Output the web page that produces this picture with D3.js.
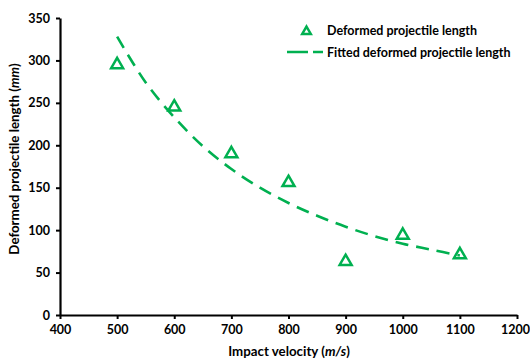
<!DOCTYPE html>
<html>
<head>
<meta charset="utf-8">
<script src="https://cdn.jsdelivr.net/npm/d3@7"></script>
<style>
  body { margin: 0; background: #fff; }
  text { font-family: Lato, "Open Sans", sans-serif; font-weight: bold; fill: #000; }
</style>
</head>
<body>
<svg id="chart" width="530" height="363"></svg>
<script>
// measured points
const velocity = [500, 600, 700, 800, 900, 1000, 1100]
const lengthMm = [295, 245, 190, 156, 63, 94, 71]

// fitted curve
const fitVelocity = [500, 550, 600, 650, 700, 750, 800, 850, 900, 950, 1000, 1050, 1100]
const fitLength = [328, 274, 233, 199, 172, 150, 132, 117, 104, 93, 84, 77, 70]

const xTicks = [400, 500, 600, 700, 800, 900, 1000, 1100, 1200]
const yTicks = [0, 50, 100, 150, 200, 250, 300, 350]

const green = '#00b050'
const font = 'Lato, "Open Sans", sans-serif'
const margin = { top: 18, right: 13, bottom: 48, left: 60 }
const width = 530 - margin.left - margin.right
const height = 363 - margin.top - margin.bottom

const svg = d3.select('#chart')
const g = svg.append('g')
  .attr('transform', `translate(${margin.left}, ${margin.top})`)

const xScale = d3.scaleLinear().domain([400, 1200]).range([0, width])
const yScale = d3.scaleLinear().domain([0, 350]).range([height, 0])

// axes
const xAxis = g.append('g')
  .attr('transform', `translate(0, ${height})`)
  .call(d3.axisBottom(xScale).tickValues(xTicks).tickFormat(d3.format('d'))
    .tickSize(4).tickPadding(6).tickSizeOuter(0))
const yAxis = g.append('g')
  .call(d3.axisLeft(yScale).tickValues(yTicks).tickFormat(d3.format('d'))
    .tickSize(4).tickPadding(6).tickSizeOuter(0))

;[xAxis, yAxis].forEach(a => {
  a.select('.domain').attr('stroke', '#000').attr('stroke-width', 2.2)
  a.selectAll('.tick line').attr('stroke', '#000').attr('stroke-width', 2)
  a.selectAll('.tick text')
    .style('font-size', '12.5px')
    .style('font-family', font)
    .style('font-weight', 'bold')
})
// last label sits at the right edge; keep it inside
xAxis.selectAll('.tick text').filter(d => d === 1200).attr('dx', -2)

// fitted line
const line = d3.line()
  .x((d, i) => xScale(fitVelocity[i]))
  .y(d => yScale(d))
  .curve(d3.curveCatmullRom)

g.append('path')
  .datum(fitLength)
  .attr('d', line)
  .attr('fill', 'none')
  .attr('stroke', green)
  .attr('stroke-width', 2.6)
  .attr('stroke-dasharray', '13,8')

// triangles
const tri = d3.symbol().type(d3.symbolTriangle).size(62)
g.selectAll('.pt')
  .data(lengthMm)
  .join('path')
  .attr('class', 'pt')
  .attr('d', tri)
  .attr('transform', (d, i) => `translate(${xScale(velocity[i])}, ${yScale(d)})`)
  .attr('fill', 'none')
  .attr('stroke', green)
  .attr('stroke-width', 2.5)

// axis titles
const xTitle = svg.append('text')
  .attr('x', 289)
  .attr('y', 356)
  .attr('text-anchor', 'middle')
  .style('font-size', '13.3px')
xTitle.append('tspan').text('Impact velocity (')
xTitle.append('tspan').style('font-style', 'italic').text('m/s')
xTitle.append('tspan').text(')')

const yTitle = svg.append('text')
  .attr('transform', 'translate(19, 159) rotate(-90)')
  .attr('text-anchor', 'middle')
  .style('font-size', '13.3px')
yTitle.append('tspan').text('Deformed projectile length (')
yTitle.append('tspan').style('font-style', 'italic').text('mm')
yTitle.append('tspan').text(')')

// legend
const legend = svg.append('g').attr('transform', 'translate(287, 30)')
legend.append('path')
  .attr('d', d3.symbol().type(d3.symbolTriangle).size(32))
  .attr('transform', 'translate(19.5, 1.5)')
  .attr('fill', 'none')
  .attr('stroke', green)
  .attr('stroke-width', 2.5)
legend.append('text').attr('x', 40).attr('y', 4.5).style('font-size', '12.5px')
  .text('Deformed projectile length')
legend.append('line')
  .attr('x1', 0).attr('x2', 36).attr('y1', 22).attr('y2', 22)
  .attr('stroke', green).attr('stroke-width', 2.6)
  .attr('stroke-dasharray', '21,5')
legend.append('text').attr('x', 40).attr('y', 26.5).style('font-size', '12.5px')
  .text('Fitted deformed projectile length')
</script>
</body>
</html>
